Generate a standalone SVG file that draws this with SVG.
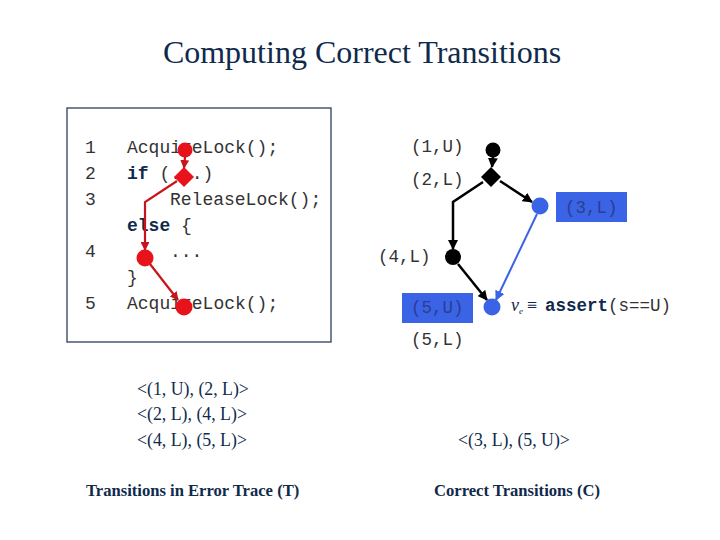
<svg xmlns="http://www.w3.org/2000/svg" width="720" height="540" viewBox="0 0 720 540">
<defs>
<style>
.title{font-family:"Liberation Serif",serif;font-size:32px;fill:#0f2a4a}
.code{font-family:"Liberation Mono",monospace;font-size:18px;fill:#333}
.kw{font-weight:bold;fill:#0f2a4a}
.lbl{font-family:"Liberation Mono",monospace;font-size:17.5px;fill:#333}
.lblb{font-family:"Liberation Mono",monospace;font-size:17.5px;fill:#2a3f8f}
.ser{font-family:"Liberation Serif",serif;font-size:17.8px;fill:#0f2a4a}
.cap{font-family:"Liberation Serif",serif;font-size:16.6px;font-weight:bold;fill:#0f2a4a}
.red{fill:#e8121a}
.blk{fill:#000}
.blu{fill:#3b63e6}
.er{stroke:#c8141c;stroke-width:2.2;fill:none}
.eb{stroke:#000;stroke-width:2.5;fill:none}
.eu{stroke:#3b63e6;stroke-width:2;fill:none}
</style>
<marker id="ar" viewBox="0 0 10 10" refX="9" refY="5" markerWidth="4" markerHeight="4" orient="auto"><path d="M0,0L10,5L0,10z" fill="#c8141c"/></marker>
<marker id="ak" viewBox="0 0 10 10" refX="9" refY="5" markerWidth="4" markerHeight="4" orient="auto"><path d="M0,0L10,5L0,10z" fill="#000"/></marker>
<marker id="au" viewBox="0 0 10 10" refX="9" refY="5" markerWidth="5" markerHeight="5" orient="auto"><path d="M0,0L10,5L0,10z" fill="#3b63e6"/></marker>
</defs>
<rect width="720" height="540" fill="#fff"/>
<text class="title" x="362" y="63" text-anchor="middle">Computing Correct Transitions</text>

<g id="code-box">
<rect x="67" y="108" width="264" height="234" fill="#fff" stroke="#1a3050" stroke-width="1.2"/>
<text class="code" x="85" y="153">1</text>
<text class="code" x="85" y="179">2</text>
<text class="code" x="85" y="205">3</text>
<text class="code" x="85" y="257">4</text>
<text class="code" x="85" y="309">5</text>
<text class="code" x="127" y="153">AcquireLock();</text>
<text class="code" x="127" y="179"><tspan class="kw">if</tspan> (...)</text>
<text class="code" x="170" y="205">ReleaseLock();</text>
<text class="code" x="127" y="231"><tspan class="kw">else</tspan> {</text>
<text class="code" x="170" y="257">...</text>
<text class="code" x="127" y="283">}</text>
<text class="code" x="127" y="309">AcquireLock();</text>
</g>

<g id="red-edges">
<path class="er" d="M185,157 L184,168" marker-end="url(#ar)"/>
<path class="er" d="M177,181 L145,202 L145,250" marker-end="url(#ar)"/>
<path class="er" d="M150,264 L178,300" marker-end="url(#ar)"/>
</g>
<g id="r1"><circle class="red" cx="185" cy="150" r="7.5"/></g>
<g id="r2"><path class="red" d="M184,167 L194,177 L184,187 L174,177z"/></g>
<g id="r4"><circle class="red" cx="145" cy="258" r="8.5"/></g>
<g id="r5"><circle class="red" cx="184" cy="307" r="8.5"/></g>

<g id="connectors">
<path class="eb" d="M493,157 L492,167" marker-end="url(#ak)"/>
<path class="eb" d="M500,181 L532,202" marker-end="url(#ak)"/>
<path class="eb" d="M483,182 L453,202 L453,249" marker-end="url(#ak)"/>
<path class="eb" d="M458,264 L487,300" marker-end="url(#ak)"/>
<path class="eu" d="M537,214 L496,300" marker-end="url(#au)"/>
</g>

<g id="n1"><circle class="blk" cx="493" cy="150" r="7.5"/><text class="lbl" x="411" y="152">(1,U)</text></g>
<g id="n2"><path class="blk" d="M491,167 L501,177 L491,187 L481,177z"/><text class="lbl" x="411" y="185">(2,L)</text></g>
<g id="n3"><circle class="blu" cx="540" cy="206" r="8.5"/><rect x="556" y="192" width="71" height="30" fill="#3b63e6"/><text class="lblb" x="565" y="213">(3,L)</text></g>
<g id="n4"><circle class="blk" cx="453" cy="257" r="8"/><text class="lbl" x="378" y="262">(4,L)</text></g>
<g id="n5"><circle class="blu" cx="492" cy="307" r="8.5"/><rect x="402" y="293" width="71" height="30" fill="#3b63e6"/><text class="lblb" x="411" y="313">(5,U)</text><text class="lbl" x="411" y="345">(5,L)</text></g>

<g id="assert">
<text x="511" y="311" style="font-family:'Liberation Serif',serif;font-style:italic;font-size:18px;fill:#0f2a4a">ν<tspan font-size="9" dy="3">e</tspan></text>
<text x="527" y="311" style="font-family:'Liberation Serif',serif;font-size:18px;fill:#0f2a4a">≡</text>
<text class="lbl" x="545" y="311"><tspan class="kw">assert</tspan>(s==U)</text>
</g>

<g id="traces">
<text class="ser" x="137" y="395">&lt;(1, U), (2, L)&gt;</text>
<text class="ser" x="137" y="420">&lt;(2, L), (4, L)&gt;</text>
<text class="ser" x="137" y="446">&lt;(4, L), (5, L)&gt;</text>
<text class="ser" x="458" y="446">&lt;(3, L), (5, U)&gt;</text>
<text class="cap" x="86" y="496">Transitions in Error Trace (T)</text>
<text class="cap" x="434" y="496">Correct Transitions (C)</text>
</g>
</svg>
